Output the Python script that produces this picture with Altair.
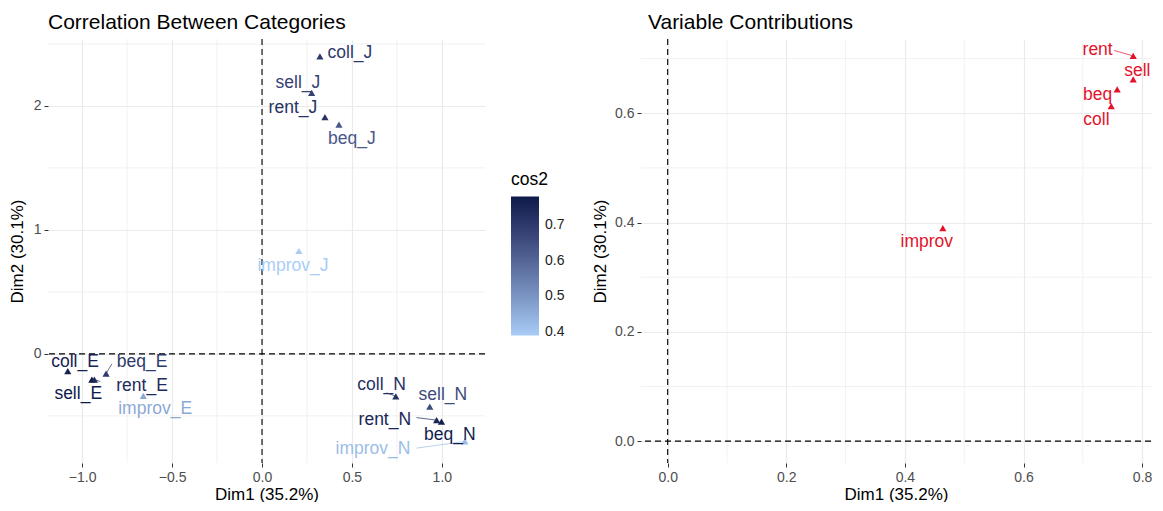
import altair as alt
import pandas as pd

# ---------------- data ----------------
cat_names = ["coll_J", "sell_J", "rent_J", "beq_J", "improv_J",
             "coll_E", "sell_E", "rent_E", "beq_E", "improv_E",
             "coll_N", "sell_N", "rent_N", "beq_N", "improv_N"]
cat_dim1 = [0.322, 0.276, 0.350, 0.428, 0.205,
            -1.080, -0.946, -0.932, -0.867, -0.660,
            0.744, 0.933, 0.971, 0.998, 1.128]
cat_dim2 = [2.400, 2.106, 1.910, 1.850, 0.830,
            -0.138, -0.208, -0.208, -0.160, -0.338,
            -0.342, -0.426, -0.534, -0.546, -0.706]
cat_cos2 = [0.70, 0.68, 0.72, 0.63, 0.389,
            0.76, 0.781, 0.74, 0.70, 0.46,
            0.72, 0.66, 0.75, 0.77, 0.42]
cat_label_x = [0.489, 0.200, 0.172, 0.500, 0.172,
               -1.040, -1.022, -0.667, -0.667, -0.594,
               0.665, 1.006, 0.683, 1.044, 0.617]
cat_label_y = [2.424, 2.184, 1.984, 1.736, 0.712,
               -0.064, -0.320, -0.256, -0.064, -0.448,
               -0.248, -0.328, -0.534, -0.654, -0.766]

seg_cat_names = ["beq_E", "rent_E", "coll_N", "rent_N", "improv_N"]
seg_cat_x = [-0.835, -0.900, 0.693, 0.859, 0.859]
seg_cat_y = [-0.080, -0.222, -0.314, -0.514, -0.760]

var_names = ["rent", "sell", "beq", "coll", "improv"]
var_dim1 = [0.785, 0.785, 0.758, 0.748, 0.464]
var_dim2 = [0.705, 0.662, 0.644, 0.613, 0.390]
var_label_x = [0.725, 0.792, 0.725, 0.723, 0.437]
var_label_y = [0.715, 0.678, 0.633, 0.587, 0.364]

seg_var_names = ["rent"]
seg_var_x = [0.753]
seg_var_y = [0.715]

left_x_ticks = [-1.0, -0.5, 0.0, 0.5, 1.0]
left_y_ticks = [0, 1, 2]
left_x_minor = [-0.75, -0.25, 0.25, 0.75]
left_y_minor = [-0.5, 0.5, 1.5, 2.5]
left_x_domain = [-1.19, 1.24]
left_y_domain = [-0.88, 2.54]

right_x_ticks = [0.0, 0.2, 0.4, 0.6, 0.8]
right_y_ticks = [0.0, 0.2, 0.4, 0.6]
right_x_minor = [0.1, 0.3, 0.5, 0.7]
right_y_minor = [0.1, 0.3, 0.5, 0.7]
right_x_domain = [-0.045, 0.815]
right_y_domain = [-0.04, 0.736]

legend_values = [0.4, 0.5, 0.6, 0.7]

FONT = "Liberation Sans"
RED = "#E3132C"
GRID = "#EBEBEB"
COS2_RANGE = ["#A9CDF7", "#0D1A4A"]
COS2_DOMAIN = [min(cat_cos2), max(cat_cos2)]

# ---------------- frames ----------------
cat_df = pd.DataFrame({"name": cat_names, "x": cat_dim1, "y": cat_dim2,
                       "cos2": cat_cos2, "lx": cat_label_x, "ly": cat_label_y})
seg_cat = pd.DataFrame({"name": seg_cat_names, "sx": seg_cat_x, "sy": seg_cat_y}).merge(cat_df, on="name")
var_df = pd.DataFrame({"name": var_names, "x": var_dim1, "y": var_dim2,
                       "lx": var_label_x, "ly": var_label_y})
seg_var = pd.DataFrame({"name": seg_var_names, "sx": seg_var_x, "sy": seg_var_y}).merge(var_df, on="name")


def cos2_enc(show_legend):
    scale = alt.Scale(domain=COS2_DOMAIN, range=COS2_RANGE, interpolate="lab")
    if show_legend:
        return alt.Color(
            "cos2:Q", scale=scale,
            legend=alt.Legend(title="cos2", type="gradient", orient="none",
                              legendX=463, legendY=132, direction="vertical",
                              gradientLength=139, gradientThickness=28,
                              gradientStrokeWidth=0, values=legend_values,
                              titleFontSize=17.5, titleFontWeight="normal",
                              titleColor="black", titleFont=FONT, labelFont=FONT,
                              labelFontSize=14, labelColor="#222222",
                              titlePadding=8, labelOffset=6))
    return alt.Color("cos2:Q", scale=scale, legend=None)


def panel(df, seg, xdom, ydom, xticks, yticks, xminor, yminor, xfmt, yfmt,
          colors, title, width, height, title_dx, ytitle_pad):
    c_seg, c_pts, c_txt = colors
    xs = alt.Scale(domain=xdom, nice=False, zero=False)
    ys = alt.Scale(domain=ydom, nice=False, zero=False)
    xaxis = alt.Axis(values=xticks, format=xfmt, title="Dim1 (35.2%)", grid=True,
                     titlePadding=2)
    yaxis = alt.Axis(values=yticks, format=yfmt, title="Dim2 (30.1%)", grid=True,
                     titlePadding=ytitle_pad)

    def X(f):
        return alt.X(f, type="quantitative", scale=xs, axis=xaxis)

    def Y(f):
        return alt.Y(f, type="quantitative", scale=ys, axis=yaxis)

    minor_x = alt.Chart(pd.DataFrame({"v": xminor})).mark_rule(
        color=GRID, strokeWidth=0.7).encode(x=X("v"))
    minor_y = alt.Chart(pd.DataFrame({"v": yminor})).mark_rule(
        color=GRID, strokeWidth=0.7).encode(y=Y("v"))
    zero_x = alt.Chart(pd.DataFrame({"v": [0.0]})).mark_rule(
        color="black", strokeWidth=1.1, strokeDash=[6, 4]).encode(x=X("v"))
    zero_y = alt.Chart(pd.DataFrame({"v": [0.0]})).mark_rule(
        color="black", strokeWidth=1.1, strokeDash=[6, 4]).encode(y=Y("v"))

    segs = alt.Chart(seg).mark_rule(strokeWidth=0.7).encode(
        x=X("sx"), y=Y("sy"), x2="x", y2="y", color=c_seg)
    pts = alt.Chart(df).mark_point(shape="triangle-up", filled=True, size=52, opacity=1).encode(
        x=X("x"), y=Y("y"), color=c_pts)
    txt = alt.Chart(df).mark_text(font=FONT, fontSize=17.5, align="center", baseline="middle").encode(
        x=X("lx"), y=Y("ly"), text="name:N", color=c_txt)

    return alt.layer(minor_x, minor_y, zero_x, zero_y, segs, pts, txt).resolve_scale(
        color="independent").resolve_legend(color="independent").properties(
        width=width, height=height,
        title=alt.TitleParams(title, anchor="start", frame="group", fontSize=21,
                              font=FONT, fontWeight="normal", color="black", offset=5,
                              dx=title_dx),
    )


left = panel(cat_df, seg_cat, left_x_domain, left_y_domain, left_x_ticks, left_y_ticks,
             left_x_minor, left_y_minor, ".1f", "d",
             (cos2_enc(False), cos2_enc(True), cos2_enc(False)),
             "Correlation Between Categories", 437, 424, 0, 7)

right = panel(var_df, seg_var, right_x_domain, right_y_domain, right_x_ticks, right_y_ticks,
              right_x_minor, right_y_minor, ".1f", ".1f",
              (alt.value(RED), alt.value(RED), alt.value(RED)),
              "Variable Contributions", 510, 424, 7, 5)

chart = alt.hconcat(left, right, spacing=26).resolve_scale(
    color="independent", x="independent", y="independent"
).properties(padding={"left": 0, "top": 4, "right": 0, "bottom": 0}).configure_view(
    stroke=None).configure_axis(
    domain=False, tickColor="#333333", tickSize=4, tickWidth=1,
    labelColor="#4D4D4D", labelFontSize=14, labelFont=FONT, labelPadding=3,
    titleFont=FONT, titleFontSize=17, titleFontWeight="normal", titleColor="black",
    gridColor=GRID, gridWidth=1.2,
)

chart.save("out.html", embed_options={"renderer": "svg", "actions": False})
